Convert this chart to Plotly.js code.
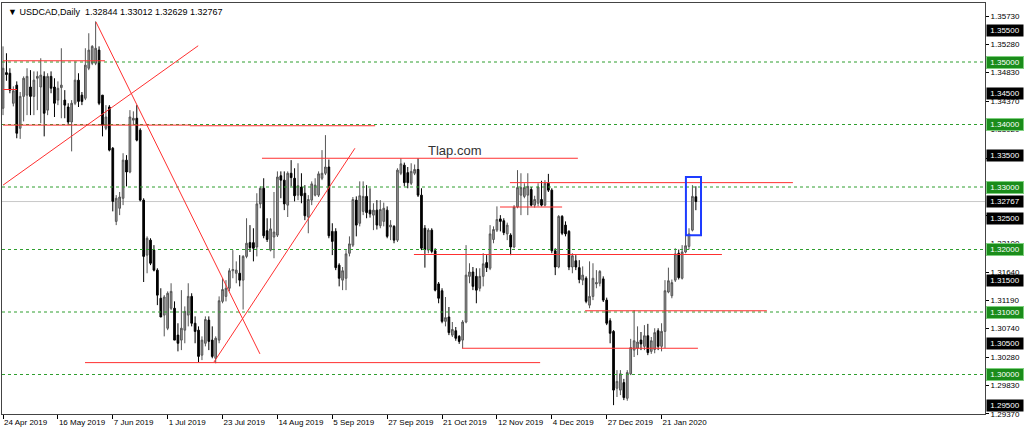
<!DOCTYPE html>
<html><head><meta charset="utf-8">
<script src="https://cdn.plot.ly/plotly-3.0.1.min.js"></script>
<style>html,body{margin:0;padding:0;background:#fff;}#chart{width:1024px;height:433px;}</style>
</head><body><div id="chart"></div>
<script>
// ---- data (USDCAD daily) ----
const openP = [1.3426,1.3483,1.3482,1.3434,1.3463,1.3394,1.3445,1.3447,1.3460,1.3445,1.3474,1.3460,1.3477,1.3423,1.3477,1.3460,1.3439,1.3459,1.3439,1.3428,
1.3404,1.3434,1.3471,1.3447,1.3442,1.3490,1.3498,1.3498,1.3519,1.3447,1.3394,1.3428,1.3362,1.3245,1.3266,1.3282,1.3343,1.3324,1.3407,1.3410,
1.3391,1.3279,1.3191,1.3215,1.3199,1.3167,1.3122,1.3095,1.3074,1.3106,1.3106,1.3063,1.3055,1.3071,1.3095,1.3125,1.3082,1.3071,1.3031,1.3050,
1.3087,1.3055,1.3026,1.3055,1.3117,1.3125,1.3138,1.3166,1.3162,1.3162,1.3151,1.3189,1.3211,1.3211,1.3204,1.3273,1.3298,1.3230,1.3199,1.3220,
1.3223,1.3318,1.3311,1.3271,1.3322,1.3314,1.3287,1.3300,1.3290,1.3252,1.3279,1.3287,1.3287,1.3314,1.3322,1.3332,1.3229,1.3229,1.3175,1.3151,
1.3154,1.3194,1.3207,1.3279,1.3242,1.3261,1.3285,1.3263,1.3255,1.3263,1.3238,1.3245,1.3263,1.3236,1.3237,1.3215,1.3322,1.3335,1.3323,1.3306,
1.3322,1.3328,1.3287,1.3234,1.3199,1.3231,1.3198,1.3145,1.3134,1.3085,1.3092,1.3063,1.3070,1.3061,1.3055,1.3084,1.3157,1.3164,1.3157,1.3138,
1.3157,1.3179,1.3170,1.3216,1.3231,1.3249,1.3246,1.3225,1.3223,1.3204,1.3268,1.3287,1.3285,1.3287,1.3296,1.3271,1.3274,1.3280,1.3271,1.3306,
1.3295,1.3198,1.3172,1.3253,1.3239,1.3229,1.3172,1.3182,1.3171,1.3151,1.3154,1.3111,1.3125,1.3145,1.3146,1.3153,1.3119,1.3086,1.3069,1.2978,
1.2975,1.2987,1.2962,1.3001,1.3039,1.3042,1.3055,1.3045,1.3062,1.3037,1.3040,1.3070,1.3045,1.3069,1.3132,1.3126,1.3151,1.3194,1.3154,1.3196,
1.3205,1.3231,1.32844];
const highP = [1.3525,1.3514,1.3490,1.3461,1.3469,1.3452,1.3477,1.3490,1.3487,1.3485,1.3485,1.3506,1.3485,1.3482,1.3485,1.3474,1.3469,1.3522,1.3455,1.3434,
1.3439,1.3501,1.3482,1.3452,1.3522,1.3546,1.3527,1.3565,1.3525,1.3447,1.3431,1.3431,1.3364,1.3287,1.3292,1.3354,1.3351,1.3423,1.3421,1.3431,
1.3394,1.3282,1.3221,1.3218,1.3207,1.3170,1.3138,1.3127,1.3133,1.3146,1.3117,1.3082,1.3135,1.3109,1.3146,1.3130,1.3093,1.3077,1.3061,1.3093,
1.3093,1.3077,1.3061,1.3125,1.3154,1.3151,1.3170,1.3199,1.3181,1.3191,1.3191,1.3250,1.3239,1.3234,1.3290,1.3301,1.3314,1.3250,1.3250,1.3292,
1.3325,1.3325,1.3325,1.3325,1.3343,1.3330,1.3338,1.3322,1.3303,1.3287,1.3309,1.3314,1.3325,1.3359,1.3383,1.3344,1.3242,1.3234,1.3178,1.3172,
1.3199,1.3221,1.3284,1.3285,1.3309,1.3309,1.3303,1.3298,1.3274,1.3279,1.3279,1.3275,1.3269,1.3247,1.3239,1.3330,1.3346,1.3339,1.3332,1.3338,
1.3336,1.3346,1.3298,1.3239,1.3234,1.3234,1.3202,1.3148,1.3138,1.3124,1.3108,1.3084,1.3076,1.3063,1.3087,1.3207,1.3178,1.3172,1.3170,1.3170,
1.3194,1.3191,1.3239,1.3237,1.3269,1.3255,1.3250,1.3243,1.3226,1.3271,1.3327,1.3322,1.3306,1.3322,1.3300,1.3286,1.3306,1.3310,1.3311,1.3321,
1.3298,1.3202,1.3255,1.3255,1.3245,1.3231,1.3194,1.3191,1.3183,1.3173,1.3157,1.3181,1.3178,1.3167,1.3167,1.3157,1.3123,1.3090,1.3071,1.3007,
1.3007,1.2993,1.3007,1.3057,1.3103,1.3077,1.3068,1.3079,1.3081,1.3060,1.3074,1.3074,1.3082,1.3151,1.3171,1.3152,1.3202,1.3200,1.3207,1.3223,
1.3234,1.3303,1.33012];
const lowP = [1.3415,1.3470,1.3450,1.3429,1.3378,1.3377,1.3405,1.3415,1.3415,1.3415,1.3423,1.3402,1.3381,1.3415,1.3450,1.3412,1.3431,1.3410,1.3410,1.3399,
1.3357,1.3431,1.3428,1.3431,1.3439,1.3487,1.3495,1.3495,1.3431,1.3381,1.3391,1.3357,1.3261,1.3239,1.3255,1.3271,1.3301,1.3322,1.3399,1.3373,
1.3277,1.3148,1.3162,1.3175,1.3165,1.3111,1.3092,1.3061,1.3071,1.3103,1.3055,1.3037,1.3039,1.3050,1.3077,1.3077,1.3050,1.3020,1.3023,1.3045,
1.3039,1.3026,1.3018,1.3050,1.3114,1.3117,1.3133,1.3154,1.3146,1.3141,1.3104,1.3186,1.3196,1.3181,1.3189,1.3266,1.3218,1.3212,1.3197,1.3186,
1.3220,1.3282,1.3263,1.3252,1.3301,1.3277,1.3279,1.3274,1.3247,1.3226,1.3271,1.3285,1.3284,1.3311,1.3319,1.3218,1.3191,1.3167,1.3141,1.3135,
1.3135,1.3189,1.3204,1.3221,1.3237,1.3255,1.3250,1.3251,1.3231,1.3232,1.3234,1.3237,1.3218,1.3215,1.3210,1.3212,1.3319,1.3301,1.3298,1.3303,
1.3319,1.3284,1.3199,1.3171,1.3194,1.3194,1.3133,1.3114,1.3082,1.3077,1.3063,1.3060,1.3054,1.3049,1.3042,1.3082,1.3146,1.3135,1.3114,1.3133,
1.3141,1.3164,1.3167,1.3210,1.3228,1.3229,1.3223,1.3215,1.3191,1.3202,1.3266,1.3255,1.3282,1.3255,1.3269,1.3267,1.3269,1.3269,1.3269,1.3292,
1.3194,1.3159,1.3170,1.3223,1.3221,1.3167,1.3162,1.3167,1.3146,1.3143,1.3114,1.3106,1.3119,1.3138,1.3141,1.3116,1.3079,1.3050,1.2951,1.2964,
1.2967,1.2959,1.2958,1.2999,1.3028,1.3031,1.3039,1.3039,1.3031,1.3033,1.3034,1.3039,1.3037,1.3042,1.3130,1.3122,1.3148,1.3152,1.3152,1.3194,
1.3200,1.3229,1.32629];
const closeP = [1.3490,1.3480,1.3455,1.3454,1.3386,1.3445,1.3474,1.3477,1.3445,1.3471,1.3477,1.3479,1.3418,1.3477,1.3458,1.3434,1.3458,1.3463,1.3431,1.3404,
1.3434,1.3471,1.3437,1.3437,1.3495,1.3519,1.3525,1.3522,1.3434,1.3399,1.3412,1.3359,1.3277,1.3282,1.3284,1.3343,1.3324,1.3412,1.3410,1.3375,
1.3279,1.3189,1.3218,1.3178,1.3167,1.3127,1.3092,1.3124,1.3130,1.3133,1.3055,1.3050,1.3074,1.3101,1.3125,1.3082,1.3069,1.3029,1.3055,1.3088,
1.3053,1.3029,1.3058,1.3118,1.3136,1.3138,1.3166,1.3168,1.3167,1.3151,1.3189,1.3210,1.3203,1.3202,1.3273,1.3298,1.3222,1.3216,1.3233,1.3228,
1.3316,1.3311,1.3273,1.3322,1.3315,1.3286,1.3302,1.3286,1.3254,1.3280,1.3305,1.3303,1.3321,1.3322,1.3332,1.3222,1.3213,1.3171,1.3154,1.3166,
1.3193,1.3209,1.3280,1.3239,1.3286,1.3285,1.3259,1.3257,1.3263,1.3239,1.3264,1.3266,1.3221,1.3239,1.3215,1.3327,1.3337,1.3307,1.3307,1.3325,
1.3328,1.3287,1.3202,1.3200,1.3231,1.3197,1.3135,1.3122,1.3085,1.3091,1.3067,1.3072,1.3058,1.3053,1.3084,1.3159,1.3164,1.3141,1.3135,1.3157,
1.3177,1.3171,1.3225,1.3232,1.3248,1.3245,1.3227,1.3239,1.3204,1.3268,1.3299,1.3299,1.3299,1.3301,1.3271,1.3280,1.3300,1.3271,1.3306,1.3295,
1.3198,1.3172,1.3253,1.3226,1.3225,1.3172,1.3190,1.3172,1.3152,1.3159,1.3117,1.3125,1.3154,1.3147,1.3165,1.3119,1.3082,1.3066,1.2975,1.2989,
1.3001,1.2963,1.3003,1.3043,1.3054,1.3052,1.3049,1.3062,1.3035,1.3054,1.3067,1.3045,1.3069,1.3134,1.3150,1.3147,1.3193,1.3155,1.3196,1.3206,
1.3225,1.3285,1.32767];
const dateLabels = ['24 Apr 2019','16 May 2019','7 Jun 2019','1 Jul 2019','23 Jul 2019','14 Aug 2019','5 Sep 2019','27 Sep 2019','21 Oct 2019','12 Nov 2019','4 Dec 2019','27 Dec 2019','21 Jan 2020'];
const barsPerLabel = 16;
const priceTicks = [1.2937,1.2983,1.3028,1.3074,1.3119,1.3164,1.3210,1.3255,1.3301,1.3346,1.3392,1.3437,1.3483,1.3528,1.3573];
const hiddenTicks = [1.3255,1.3301];   // fully covered by level boxes in the reference
const greenLevels = [1.35,1.34,1.33,1.32,1.31,1.30];
const blackLevels = [1.355,1.345,1.335,1.325,1.315,1.305,1.295];
const lastPrice = 1.32767;
const titleText = '\u25BC USDCAD,Daily  1.32844 1.33012 1.32629 1.32767';
const watermark = 'Tlap.com';
// drawn objects: [x0 bar, price0, x1 bar, price1]
const trendLines = [
  [0,1.3502,29.7,1.3502],
  [0,1.3456,4.1,1.3456],
  [0,1.3399,54.5,1.3399],
  [54.5,1.3398,108.5,1.3398],
  [27.1,1.3564,74.9,1.3033],
  [0,1.3303,56.9,1.3526],
  [61.5,1.3020,102.6,1.3362],
  [23.9,1.3019,156.6,1.3019],
  [75.5,1.3346,167.6,1.3346],
  [147.8,1.3307,230.3,1.3307],
  [144.9,1.3268,163.0,1.3268],
  [119.8,1.3192,209.6,1.3192],
  [169.7,1.3102,222.7,1.3102],
  [133.8,1.3042,202.6,1.3042]
];
const boxRect = [199.1,1.3316,203.5,1.3223];

const xIdx = openP.map((_, i) => i);
const FONT = 'Liberation Sans, Arial, sans-serif';

const trace = {
  type: 'candlestick', x: xIdx, open: openP, high: highP, low: lowP, close: closeP,
  increasing: {line: {color: '#555555', width: 1}, fillcolor: '#9a9a9a'},
  decreasing: {line: {color: '#000000', width: 1}, fillcolor: '#000000'},
  whiskerwidth: 0, hoverinfo: 'skip', showlegend: false
};

const shapes = [];
shapes.push({type:'line', xref:'paper', x0:0, x1:1, yref:'y', y0:lastPrice, y1:lastPrice, line:{color:'#c8c8c8', width:1}, layer:'below'});
greenLevels.forEach(v => shapes.push({type:'line', xref:'paper', x0:0, x1:1, yref:'y', y0:v, y1:v, line:{color:'#2f9e2f', width:1, dash:'3px,3px'}, layer:'above'}));
trendLines.forEach(t => shapes.push({type:'line', xref:'x', yref:'y', x0:t[0], y0:t[1], x1:t[2], y1:t[3], line:{color:'#ff3030', width:1}, layer:'above'}));
shapes.push({type:'rect', xref:'x', yref:'y', x0:boxRect[0], y0:boxRect[1], x1:boxRect[2], y1:boxRect[3], line:{color:'#1e3cff', width:2}, layer:'above'});

const annotations = [];
const fmt = v => v.toFixed(5);
greenLevels.forEach(v => annotations.push({xref:'paper', x:1, xanchor:'left', xshift:1, yref:'y', y:v, yanchor:'middle', text:fmt(v), showarrow:false,
  font:{family:FONT, size:8, color:'#ffffff'}, bgcolor:'#1a8c1a', bordercolor:'#7fd07f', borderwidth:1, borderpad:1, width:34, height:9}));
blackLevels.forEach(v => annotations.push({xref:'paper', x:1, xanchor:'left', xshift:1, yref:'y', y:v, yanchor:'middle', text:fmt(v), showarrow:false,
  font:{family:FONT, size:8, color:'#ffffff'}, bgcolor:'#000000', borderpad:1, width:34, height:9}));
annotations.push({xref:'paper', x:1, xanchor:'left', xshift:1, yref:'y', y:lastPrice, yanchor:'middle', text:fmt(lastPrice), showarrow:false,
  font:{family:FONT, size:8, color:'#ffffff'}, bgcolor:'#000000', borderpad:1, width:34, height:9});
annotations.push({xref:'paper', yref:'paper', x:0.004, y:0.995, xanchor:'left', yanchor:'top', text:titleText, showarrow:false,
  font:{family:FONT, size:9, color:'#000000'}});
annotations.push({xref:'x', yref:'y', x:131.5, y:1.3358, xanchor:'center', yanchor:'middle', text:watermark, showarrow:false,
  font:{family:FONT, size:13, color:'#333333'}});

const layout = {
  width: 1024, height: 433,
  margin: {l: 2, r: 39, t: 3, b: 19},
  paper_bgcolor: '#ffffff', plot_bgcolor: '#ffffff',
  showlegend: false,
  xaxis: {
    range: [-0.3, 286.3], rangeslider: {visible: false}, showgrid: false, zeroline: false,
    tickmode: 'array', tickvals: dateLabels.map((_, i) => i * barsPerLabel), ticktext: dateLabels,
    ticks: 'outside', ticklen: 4, tickcolor: '#000', ticklabelposition: 'outside right',
    tickfont: {family: FONT, size: 8, color: '#000'},
    showline: true, linecolor: '#444', linewidth: 1, mirror: true
  },
  yaxis: {
    side: 'right', range: [1.29368, 1.35944], showgrid: false, zeroline: false,
    tickmode: 'array', tickvals: priceTicks,
    ticktext: priceTicks.map(v => hiddenTicks.includes(v) ? '' : fmt(v)),
    ticks: 'outside', ticklen: 3, tickcolor: '#000',
    tickfont: {family: FONT, size: 8, color: '#000'},
    showline: true, linecolor: '#444', linewidth: 1, mirror: true
  },
  shapes: shapes, annotations: annotations
};
Plotly.newPlot('chart', [trace], layout, {staticPlot: true, displayModeBar: false});
</script></body></html>
